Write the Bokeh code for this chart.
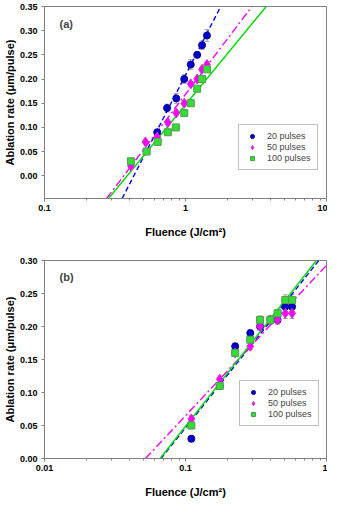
from bokeh.plotting import figure
from bokeh.layouts import column
from bokeh.models import (ColumnDataSource, Whisker, TeeHead, FixedTicker,
                          PrintfTickFormatter, CustomJSTickFormatter, Label)
from bokeh.embed import file_html
from bokeh.resources import INLINE
import numpy as np

# ---------------- data: panel (a) ----------------
a_x20 = [0.63, 0.74, 0.86, 0.98, 1.09, 1.21, 1.31, 1.42]
a_y20 = [0.09, 0.14, 0.16, 0.20, 0.23, 0.25, 0.27, 0.29]
a_e20 = [0.006, 0.008, 0.010, 0.009, 0.010, 0.006, 0.009, 0.012]
a_x50 = [0.41, 0.52, 0.63, 0.75, 0.86, 0.98, 1.09, 1.21, 1.31, 1.42]
a_y50 = [0.02, 0.07, 0.08, 0.11, 0.13, 0.15, 0.19, 0.20, 0.22, 0.23]
a_e50 = [0.004, 0.004, 0.004, 0.005, 0.005, 0.005, 0.005, 0.005, 0.005, 0.005]
a_x100 = [0.41, 0.53, 0.635, 0.75, 0.855, 0.98, 1.09, 1.21, 1.31, 1.42]
a_y100 = [0.03, 0.05, 0.07, 0.09, 0.10, 0.13, 0.15, 0.18, 0.20, 0.22]
a_e100 = [0.004, 0.004, 0.004, 0.004, 0.004, 0.004, 0.004, 0.004, 0.004, 0.004]
# linear fits: rate = slope * log10(F / Fth)
a_fit_slope = [0.568, 0.385, 0.355]
a_fit_fth = [0.43, 0.365, 0.386]

# ---------------- data: panel (b) ----------------
b_x = [0.11, 0.175, 0.225, 0.288, 0.338, 0.40, 0.45, 0.51, 0.57]
b_y20 = [0.03, 0.11, 0.17, 0.19, 0.20, 0.21, 0.21, 0.23, 0.23]
b_y50 = [0.06, 0.12, 0.16, 0.17, 0.20, 0.21, 0.21, 0.22, 0.22]
b_y100 = [0.05, 0.11, 0.16, 0.18, 0.21, 0.21, 0.22, 0.24, 0.24]
b_e = [0.005, 0.005, 0.005, 0.005, 0.006, 0.006, 0.006, 0.008, 0.008]
b_fit_slope = [0.268, 0.228, 0.2705]
b_fit_fth = [0.067, 0.052, 0.066]

labels = ["20 pulses", "50 pulses", "100 pulses"]
a_yticks = [0.00, 0.05, 0.10, 0.15, 0.20, 0.25, 0.30, 0.35]
b_yticks = [0.00, 0.05, 0.10, 0.15, 0.20, 0.25, 0.30]

FONT = "Liberation Sans"
GRAY = "#808080"
COL_LINE = ["#0000FF", "#FF00FF", "#00DD00"]
DASH = ["5 3", "8 3 2 3", "solid"]


def style(p, xticks, xminor, yticks, xlabel_text, ylabel_text):
    p.outline_line_color = GRAY
    p.outline_line_width = 1
    p.xgrid.visible = False
    p.ygrid.visible = False
    for ax in (p.xaxis[0], p.yaxis[0]):
        ax.axis_line_color = GRAY
        ax.major_tick_line_color = GRAY
        ax.minor_tick_line_color = GRAY
        ax.major_tick_in = 0
        ax.major_tick_out = 3
        ax.minor_tick_in = 0
        ax.minor_tick_out = 2
        ax.major_label_text_font = FONT
        ax.major_label_text_font_style = "bold"
        ax.major_label_text_font_size = "9px"
        ax.major_label_text_color = "black"
        ax.axis_label_text_font = FONT
        ax.axis_label_text_font_style = "bold"
        ax.axis_label_text_font_size = "11px"
        ax.axis_label_text_color = "black"
    p.xaxis.ticker = FixedTicker(ticks=xticks, minor_ticks=xminor)
    p.xaxis.formatter = CustomJSTickFormatter(code="return tick.toString();")
    p.xaxis.major_label_standoff = 3
    p.xaxis.axis_label_standoff = 12
    p.xaxis.axis_label = xlabel_text
    p.yaxis.ticker = FixedTicker(ticks=yticks, minor_ticks=[])
    p.yaxis.formatter = PrintfTickFormatter(format="%.2f")
    p.yaxis.major_label_standoff = 4
    p.yaxis.axis_label_standoff = 1
    p.yaxis.axis_label = ylabel_text


def fit_lines(p, slopes, fths, ymin, ymax):
    for s, f, c, d in zip(slopes, fths, COL_LINE, DASH):
        ys = np.array([ymin, ymax])
        xs = f * 10 ** (ys / s)
        p.line(xs, ys, line_color=c, line_width=1.4, line_dash=d)


def whisk(p, xs, ys, es):
    src = ColumnDataSource(dict(x=xs, lo=[y - e for y, e in zip(ys, es)],
                                hi=[y + e for y, e in zip(ys, es)]))
    w = Whisker(base="x", lower="lo", upper="hi", source=src,
                line_color="#A0A0A0", line_width=1,
                upper_head=TeeHead(size=5, line_color="#A0A0A0", line_width=1),
                lower_head=TeeHead(size=5, line_color="#A0A0A0", line_width=1))
    p.add_layout(w)


def points(p, xs, ys, kind):
    if kind == 0:
        p.scatter(xs, ys, marker="circle", size=7, fill_color="#0000CC",
                  line_color="#000099", legend_label=labels[0])
    elif kind == 1:
        p.scatter(xs, ys, marker="diamond", size=10,
                  fill_color="#FF00FF", line_color="#CC33CC",
                  legend_label=labels[1])
    else:
        p.scatter(xs, ys, marker="square", size=7, fill_color="#33DD33",
                  line_color="#559955", legend_label=labels[2])


def style_legend(p, loc):
    lg = p.legend[0]
    lg.location = loc
    lg.border_line_color = GRAY
    lg.border_line_width = 1
    lg.background_fill_alpha = 1
    lg.padding = 6
    lg.margin = 0
    lg.spacing = 1
    lg.glyph_width = 14
    lg.glyph_height = 10
    lg.label_height = 10
    lg.label_standoff = 8
    lg.label_text_font = FONT
    lg.label_text_font_size = "9px"
    lg.label_text_baseline = "middle"


YLAB = "Ablation rate (\u03bcm/pulse)"
XLAB = "Fluence (J/cm\u00b2)"

# ---------------- panel (a) ----------------
A_YMIN, A_YMAX = -0.047, 0.35
pA = figure(width=327, height=250, x_axis_type="log", x_range=(0.1, 10),
            y_range=(A_YMIN, A_YMAX), output_backend="svg", toolbar_location=None,
            min_border_left=39, min_border_right=1, min_border_top=6,
            min_border_bottom=52)
style(pA, [0.1, 1, 10], [0.2, 0.3, 0.4, 0.5, 0.6, 0.7, 0.8, 0.9,
                         2, 3, 4, 5, 6, 7, 8, 9], a_yticks, XLAB, YLAB)
fit_lines(pA, a_fit_slope, a_fit_fth, A_YMIN, A_YMAX)
whisk(pA, a_x20, a_y20, a_e20)
whisk(pA, a_x50, a_y50, a_e50)
whisk(pA, a_x100, a_y100, a_e100)
points(pA, a_x20, a_y20, 0)
points(pA, a_x50, a_y50, 1)
points(pA, a_x100, a_y100, 2)
style_legend(pA, (194, 28))
pA.add_layout(Label(x=15, y=175, x_units="screen", y_units="screen", text="(a)",
                    text_font=FONT, text_font_style="bold", text_font_size="11px",
                    text_baseline="middle"))

# ---------------- panel (b) ----------------
B_YMIN, B_YMAX = 0.0, 0.30
pB = figure(width=327, height=251, x_axis_type="log", x_range=(0.01, 1),
            y_range=(B_YMIN, B_YMAX), output_backend="svg", toolbar_location=None,
            min_border_left=39, min_border_right=1, min_border_top=10,
            min_border_bottom=43)
style(pB, [0.01, 0.1, 1], [0.02, 0.03, 0.04, 0.05, 0.06, 0.07, 0.08, 0.09,
                           0.2, 0.3, 0.4, 0.5, 0.6, 0.7, 0.8, 0.9], b_yticks, XLAB, YLAB)
fit_lines(pB, b_fit_slope, b_fit_fth, B_YMIN, B_YMAX)
whisk(pB, b_x, b_y20, b_e)
whisk(pB, b_x, b_y50, b_e)
whisk(pB, b_x, b_y100, b_e)
points(pB, b_x, b_y20, 0)
points(pB, b_x, b_y50, 1)
points(pB, b_x, b_y100, 2)
style_legend(pB, (195, 32))
pB.add_layout(Label(x=15, y=182, x_units="screen", y_units="screen", text="(b)",
                    text_font=FONT, text_font_style="bold", text_font_size="11px",
                    text_baseline="middle"))

layout = column(pA, pB)
open("out.html", "w").write(file_html(layout, INLINE))
